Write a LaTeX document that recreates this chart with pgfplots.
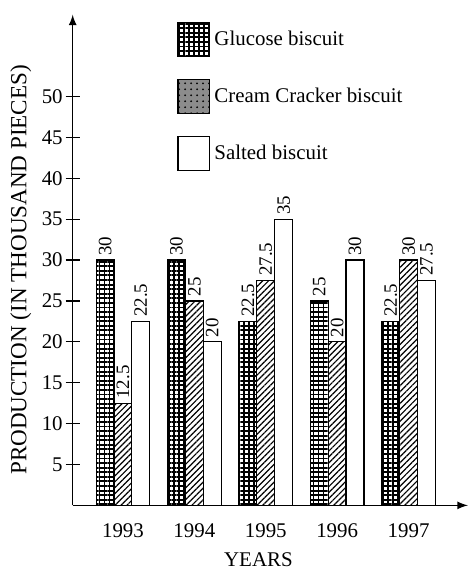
\documentclass[border=0pt]{standalone}
\usepackage{fontspec}
\setmainfont{Liberation Serif}
\usepackage{pgfplots}
\pgfplotsset{compat=1.18}
\usetikzlibrary{patterns,patterns.meta}

% production per year, thousand pieces
\pgfplotstableread{
x glucose cream salted
0 30   12.5 22.5
1 30   25   20
2 22.5 27.5 35
3 25   20   30
4 22.5 30   27.5
}\biscuits

\tikzset{
    glucose/.style={draw=black, line width=0.6pt,
        pattern={Lines[angle=0, distance=2.3pt, line width=0.95pt]},
        postaction={pattern={Lines[angle=90, distance=2.5pt, line width=0.8pt]}}},
    cream/.style={draw=black, line width=0.6pt,
        pattern={Lines[angle=45, distance=2.1pt, line width=0.6pt]}},
}

\begin{document}
\begin{tikzpicture}
\begin{axis}[
    scale only axis,
    width=198.5pt, height=246.5pt,
    clip=false,
    axis lines=left,
    axis line style={line width=0.8pt, -latex},
    ybar=0pt,
    bar width=0.25,
    xmin=-0.704, xmax=4.83,
    ymin=0, ymax=60,
    xtick=data,
    xticklabels={1993,1994,1995,1996,1997},
    x tick style={draw=none},
    xticklabel style={yshift=-2pt},
    ytick={5,10,...,50},
    tick align=center,
    major tick length=7pt,
    y tick style={line width=0.6pt, black},
    yticklabel style={xshift=2pt},
    tick label style={font=\fontsize{10.5}{12}\selectfont},
    /pgf/number format/assume math mode=true,
    every axis y label/.style={at={(axis description cs:-0.131,0.48)}, rotate=90, anchor=center,
        font=\fontsize{11.6}{13}\selectfont},
    every axis x label/.style={at={(axis description cs:0.47,-0.11)}, anchor=center,
        font=\fontsize{10.5}{12}\selectfont},
    ylabel={PRODUCTION (IN THOUSAND PIECES)},
    xlabel={YEARS},
    nodes near coords,
    nodes near coords style={rotate=90, anchor=west, font=\fontsize{9.5}{11}\selectfont, inner sep=2pt},
    legend cell align=left,
    legend style={
        at={(axis description cs:0.264,0.986)}, anchor=north west,
        draw=none, fill=none,
        font=\fontsize{10.5}{12}\selectfont,
        row sep=11pt,
        inner sep=0pt,
    },
    legend image code/.code={\draw[#1, line width=0.6pt] (0pt,-8.5pt) rectangle (16pt,8.5pt);},
]

\addplot[glucose] table[x=x, y=glucose] {\biscuits};
\addlegendentry{Glucose biscuit}

\addplot[cream,
    legend image code/.code={\draw[draw=black, line width=0.6pt, fill=black!45, postaction={pattern=dots}] (0pt,-8.5pt) rectangle (16pt,8.5pt);}]
    table[x=x, y=cream] {\biscuits};
\addlegendentry{Cream Cracker biscuit}

\addplot[draw=black, line width=0.6pt, fill=white]
    table[x=x, y=salted] {\biscuits};
\addlegendentry{Salted biscuit}

% fix the page to the reference's proportions
\path (rel axis cs:-0.184,-0.132) rectangle (rel axis cs:1.005,1.030);
\end{axis}
\end{tikzpicture}
\end{document}
